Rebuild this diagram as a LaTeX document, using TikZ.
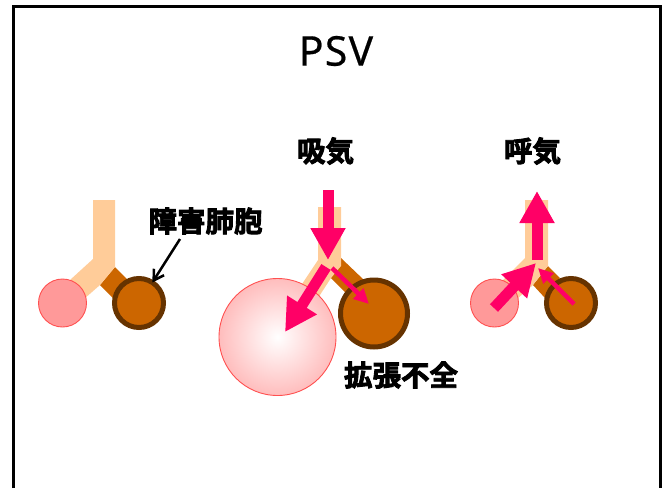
\documentclass[tikz,border=0pt]{standalone}
\usepackage{fontspec}
\usetikzlibrary{arrows.meta}
\newfontfamily\jpbold[FakeBold=3]{Noto Sans CJK JP Bold}
\newfontfamily\titlefont[LetterSpace=3,FakeBold=0.4]{Noto Sans}
\definecolor{airway}{HTML}{FFCC99}
\definecolor{brownfill}{HTML}{CC6600}
\definecolor{brownline}{HTML}{663300}
\definecolor{flow}{HTML}{FF0066}
\definecolor{pinkfill}{HTML}{FF9999}
\definecolor{pinkline}{HTML}{FF5050}
\definecolor{pinkedge}{HTML}{FFBDBD}
\tikzset{
  every node/.style={inner sep=0pt,outer sep=0pt},
  tag/.style={font=\fontsize{28.5}{28.5}\selectfont\jpbold,text=black,anchor=center},
  softsac/.style={circle,draw=pinkline,line width=0.9pt,fill=pinkfill,minimum size=#1},
  stiffsac/.style={circle,draw=brownline,line width=5pt,fill=brownfill,minimum size=#1},
  bigflow/.style={draw=flow,line width=11pt,-{Triangle[length=32pt,width=33pt]}},
  smallflow/.style={draw=flow,line width=4.5pt,-{Triangle[length=15pt,width=14pt]}},
  airwayfill/.style={fill=airway},
  branchfill/.style={fill=brownfill}
}
\begin{document}
\begin{tikzpicture}[x=1pt,y=-1pt]
\useasboundingbox (0,0) rectangle (667,488);
\begin{scope}
\clip (0,0) rectangle (667,488);
\draw[black,line width=3pt] (13,488) -- (13,6.5) -- (660.5,6.5) -- (660.5,488);
\end{scope}
\node[font=\fontsize{41}{41}\selectfont\titlefont] (title) at (336,51) {PSV};

% Normal-compliance pair at rest
\fill[branchfill] (115,267) -- (129,281) -- (113,298) -- (100,285) -- cycle;
\fill[airwayfill] (93,200) -- (115,200) -- (115,267) -- (100,285) -- (84,299) -- (70,280) -- (93,259) -- cycle;
\node[softsac=48pt] (restsoft) at (62.5,303) {};
\node[stiffsac=49pt] (reststiff) at (139,303) {};
\node[tag] (labelsac) at (205.5,221) {障害肺胞};
\coordinate (pointer) at (180,239);
\draw[black,line width=2.5pt,-{Straight Barb[length=10pt,width=12pt,line width=2.5pt]}] (pointer) -- (reststiff.57);

% Inspiration
\node[tag] (labelin) at (325.5,151) {吸気};
\fill[branchfill] (341,258) -- (364,280) -- (350,297) -- (331,278) -- cycle;
\fill[airwayfill] (318,207) -- (341,207) -- (341,266) -- (331,278) -- (318,298) -- (300,287) -- (318,260) -- cycle;
\node[circle,draw=pinkline,line width=0.9pt,inner color=white,outer color=pinkedge,minimum size=117pt] (bigsoft) at (277.5,337) {};
\node[stiffsac=67pt] (bigstiff) at (374,313.5) {};
\coordinate (inA) at (328,190);
\coordinate (inB) at (328,260);
\coordinate (inC) at (326,267);
\coordinate (inD) at (285,332);
\coordinate (inE) at (332,268);
\coordinate (inF) at (369,304);
\draw[bigflow] (inA) -- (inB);
\draw[bigflow] (inC) -- (inD);
\draw[smallflow] (inE) -- (inF);
\node[tag] (labelat) at (401,375) {拡張不全};

% Expiration
\node[tag] (labelout) at (532.5,151) {呼気};
\fill[branchfill] (548,266) -- (560,278) -- (545,298) -- (533,285) -- cycle;
\fill[airwayfill] (525,200) -- (548,200) -- (548,266) -- (533,285) -- (517,299) -- (503,280) -- (525,258) -- cycle;
\node[softsac=48pt] (outsoft) at (494.5,303) {};
\node[stiffsac=49pt] (outstiff) at (571,303) {};
\coordinate (outA) at (537,260);
\coordinate (outB) at (537,191);
\coordinate (outC) at (494,308);
\coordinate (outD) at (536,263);
\coordinate (outE) at (574,304);
\coordinate (outF) at (538,268);
\draw[bigflow] (outA) -- (outB);
\draw[bigflow] (outC) -- (outD);
\draw[smallflow] (outE) -- (outF);
\end{tikzpicture}
\end{document}
